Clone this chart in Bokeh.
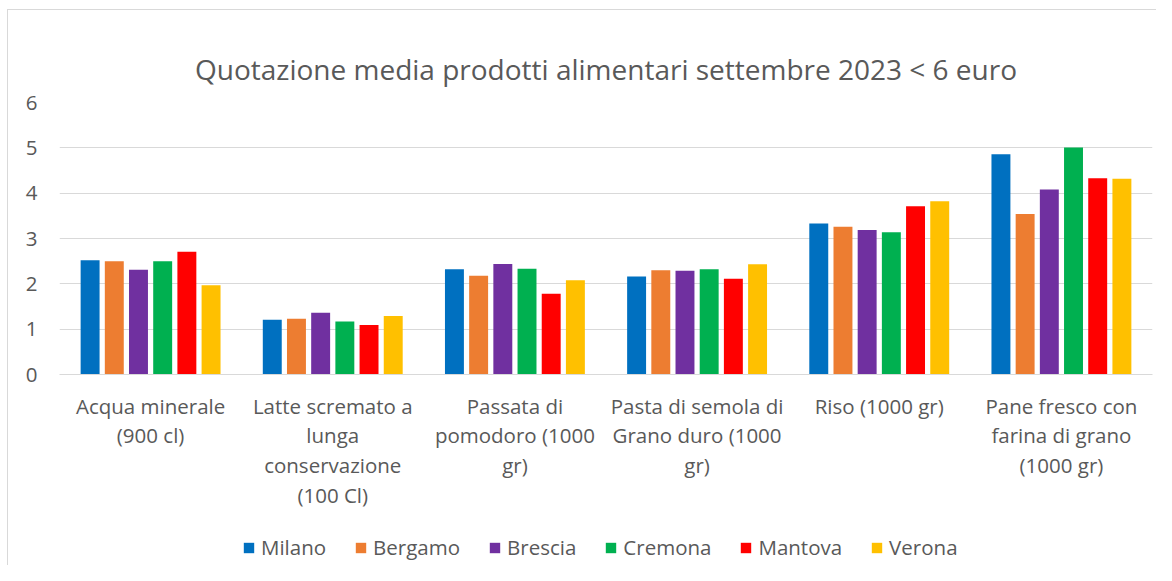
from bokeh.plotting import figure
from bokeh.layouts import column
from bokeh.models import FactorRange, Range1d, Legend, LegendItem, ColumnDataSource, Title
from bokeh.transform import dodge
from bokeh.embed import file_html
from bokeh.resources import INLINE

categories = [
    "Acqua minerale\n(900 cl)",
    "Latte scremato a\nlunga\nconservazione\n(100 Cl)",
    "Passata di\npomodoro (1000\ngr)",
    "Pasta di semola di\nGrano duro (1000\ngr)",
    "Riso (1000 gr)",
    "Pane fresco con\nfarina di grano\n(1000 gr)",
]
cities = ["Milano", "Bergamo", "Brescia", "Cremona", "Mantova", "Verona"]
milano = [2.52, 1.21, 2.32, 2.16, 3.33, 4.86]
bergamo = [2.50, 1.23, 2.18, 2.30, 3.26, 3.54]
brescia = [2.31, 1.36, 2.44, 2.29, 3.19, 4.08]
cremona = [2.50, 1.17, 2.33, 2.32, 3.14, 5.01]
mantova = [2.71, 1.09, 1.78, 2.11, 3.71, 4.33]
verona = [1.97, 1.29, 2.08, 2.43, 3.82, 4.32]
colors = ["#0070C0", "#ED7D31", "#7030A0", "#00B050", "#FF0000", "#FFC000"]
y_ticks = [0, 1, 2, 3, 4, 5, 6]
title_text = "Quotazione media prodotti alimentari settembre 2023 < 6 euro"

series = [milano, bergamo, brescia, cremona, mantova, verona]
data = {"cat": categories}
for c, s in zip(cities, series):
    data[c] = s
source = ColumnDataSource(data)

FONT = "Open Sans"
GREY = "#595959"
EDGE = "#d9d9d9"
bar_w = 0.104
step = 0.1328

# ---------------- main chart ----------------
p = figure(
    x_range=FactorRange(*categories, range_padding=0),
    y_range=Range1d(0, 6),
    width=1156, height=525,
    output_backend="svg", toolbar_location=None,
    min_border_left=59, min_border_right=4,
    min_border_top=102, min_border_bottom=151,
)
p.border_fill_color = None
p.background_fill_color = "white"
p.styles = {
    "background": f"linear-gradient({EDGE},{EDGE}) 7px 9px / 1px 100% no-repeat, "
                  f"linear-gradient({EDGE},{EDGE}) 7px 9px / 100% 1px no-repeat, white",
}

for i, (c, col) in enumerate(zip(cities, colors)):
    p.vbar(x=dodge("cat", (i - 2.5) * step, range=p.x_range), top=c, width=bar_w,
           source=source, fill_color=col, line_color=None)

p.title = Title(text=title_text, align="center", text_font=FONT, text_font_size="28px",
                text_font_style="normal", text_color=GREY, standoff=29)

p.outline_line_color = None
p.xgrid.grid_line_color = None
p.ygrid.grid_line_color = EDGE
p.ygrid.grid_line_width = 1
p.yaxis.ticker = y_ticks
p.ygrid.ticker = y_ticks

p.yaxis.axis_line_color = None
p.yaxis.major_tick_line_color = None
p.yaxis.minor_tick_line_color = None
p.yaxis.major_tick_out = 0
p.yaxis.major_tick_in = 0
p.yaxis.major_label_text_font = FONT
p.yaxis.major_label_text_font_size = "20.5px"
p.yaxis.major_label_text_color = GREY
p.yaxis.major_label_standoff = 22

p.xaxis.axis_line_color = EDGE
p.xaxis.major_tick_line_color = None
p.xaxis.minor_tick_line_color = None
p.xaxis.major_tick_out = 0
p.xaxis.major_tick_in = 0
p.xaxis.major_label_text_font = FONT
p.xaxis.major_label_text_font_size = "20.5px"
p.xaxis.major_label_text_color = GREY
p.xaxis.major_label_text_line_height = 1.065
p.xaxis.major_label_standoff = 17

# ---------------- legend strip (legend keys only; its bars have no width) ----------------
lf = figure(width=1156, height=40, output_backend="svg", toolbar_location=None,
            x_range=FactorRange(*categories, range_padding=0), y_range=Range1d(1000, 1001),
            x_axis_type=None, y_axis_type=None, min_border=0)
lf.grid.visible = False
lf.outline_line_color = None
lf.border_fill_color = None
lf.background_fill_color = None
lf.styles = {"background": f"linear-gradient({EDGE},{EDGE}) 7px 0 / 1px 100% no-repeat, white"}

items = []
for i, (c, col) in enumerate(zip(cities, colors)):
    r = lf.vbar(x=dodge("cat", (i - 2.5) * step, range=lf.x_range), top=c, width=0,
                source=source, fill_color=col, line_color=None)
    items.append(LegendItem(label=c, renderers=[r]))

legend = Legend(items=items, orientation="horizontal", location=(183, 4),
                label_text_font=FONT, label_text_font_size="20.5px", label_text_color=GREY,
                glyph_width=13, glyph_height=13, label_standoff=6, spacing=28,
                padding=0, margin=0, border_line_color=None, background_fill_alpha=0)
lf.add_layout(legend, "center")

layout = column(p, lf, spacing=0)
open("out.html", "w").write(file_html(layout, INLINE))
